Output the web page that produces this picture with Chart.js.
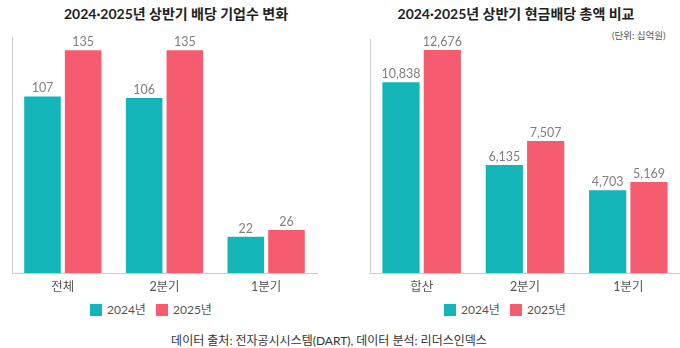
<!DOCTYPE html>
<html>
<head>
<meta charset="utf-8">
<script src="https://cdn.jsdelivr.net/npm/chart.js@4"></script>
<style>
  body { margin: 0; background: #fff; font-family: Lato, 'Noto Sans CJK KR', sans-serif; }
  #wrap { position: relative; width: 680px; height: 348px; overflow: hidden; }
  canvas { position: absolute; top: 0; }
  .title { position: absolute; top: 5px; font-size: 14px; font-weight: bold; color: #222; white-space: nowrap; transform: translateX(-50%); line-height: 18px; }
  .unit { position: absolute; left: 612px; top: 28px; font-size: 9.5px; color: #555; white-space: nowrap; }
  .box { position: absolute; width: 12px; height: 12px; top: 304px; }
  .lg { position: absolute; top: 302px; font-size: 12px; color: #555; line-height: 16px; white-space: nowrap; }
  .foot { position: absolute; left: 0; width: 658px; text-align: center; top: 331px; font-size: 12px; color: #333; }
</style>
</head>
<body>
<div id="wrap">
  <div class="title" style="left:176px">2024·2025년 상반기 배당 기업수 변화</div>
  <div class="title" style="left:516px">2024·2025년 상반기 현금배당 총액 비교</div>
  <div class="unit">(단위: 십억원)</div>
  <canvas id="countChart" width="340" height="300" style="left:0"></canvas>
  <canvas id="cashChart" width="340" height="300" style="left:340px"></canvas>

  <div class="box" style="left:90px;background:#13b5b9"></div><div class="lg" style="left:107px">2024년</div>
  <div class="box" style="left:156px;background:#f55c70"></div><div class="lg" style="left:173px">2025년</div>
  <div class="box" style="left:444px;background:#13b5b9"></div><div class="lg" style="left:461px">2024년</div>
  <div class="box" style="left:510px;background:#f55c70"></div><div class="lg" style="left:527px">2025년</div>

  <div class="foot">데이터 출처: 전자공시시스템(DART), 데이터 분석: 리더스인덱스</div>
</div>
<script>
// data
const countCategories = ['전체', '2분기', '1분기'];
const count2024 = [107, 106, 22];
const count2025 = [135, 135, 26];

const cashCategories = ['합산', '2분기', '1분기'];
const cash2024 = [10838, 6135, 4703];
const cash2025 = [12676, 7507, 5169];

const seriesLabels = ['2024년', '2025년'];
const colors = ['#13b5b9', '#f55c70'];

const FONT = "Lato, 'Noto Sans CJK KR', sans-serif";

// draws the number above every bar
const valueLabels = {
  id: 'valueLabels',
  afterDatasetsDraw(chart) {
    const ctx = chart.ctx;
    ctx.save();
    ctx.font = '12.5px ' + FONT;
    ctx.fillStyle = '#808080';
    ctx.textAlign = 'center';
    ctx.textBaseline = 'alphabetic';
    chart.data.datasets.forEach((ds, i) => {
      chart.getDatasetMeta(i).data.forEach((bar, j) => {
        ctx.fillText(ds.data[j].toLocaleString('en-US'), bar.x, bar.y - 4);
      });
    });
    ctx.restore();
  }
};

function makeChart(id, labels, a, b, max, pad) {
  return new Chart(document.getElementById(id), {
    type: 'bar',
    data: {
      labels: labels,
      datasets: [
        { label: seriesLabels[0], data: a, backgroundColor: colors[0] },
        { label: seriesLabels[1], data: b, backgroundColor: colors[1] }
      ]
    },
    options: {
      responsive: false,
      animation: false,
      devicePixelRatio: 1,
      layout: { padding: pad },
      plugins: { legend: { display: false }, tooltip: { enabled: false } },
      scales: {
        x: {
          grid: { display: false, drawTicks: false },
          border: { display: true, color: '#cccccc' },
          ticks: { padding: 6, color: '#555', font: { family: FONT, size: 12.5 } }
        },
        y: {
          min: 0,
          max: max,
          grid: { display: false, drawTicks: false },
          border: { display: true, color: '#cccccc' },
          ticks: { display: false }
        }
      }
    },
    plugins: [valueLabels]
  });
}

makeChart('countChart', countCategories, count2024, count2025, 143, { left: 12, right: 23, top: 37, bottom: 0 });
makeChart('cashChart', cashCategories, cash2024, cash2025, 13300, { left: 30, right: 0, top: 39, bottom: 0 });
</script>
</body>
</html>
